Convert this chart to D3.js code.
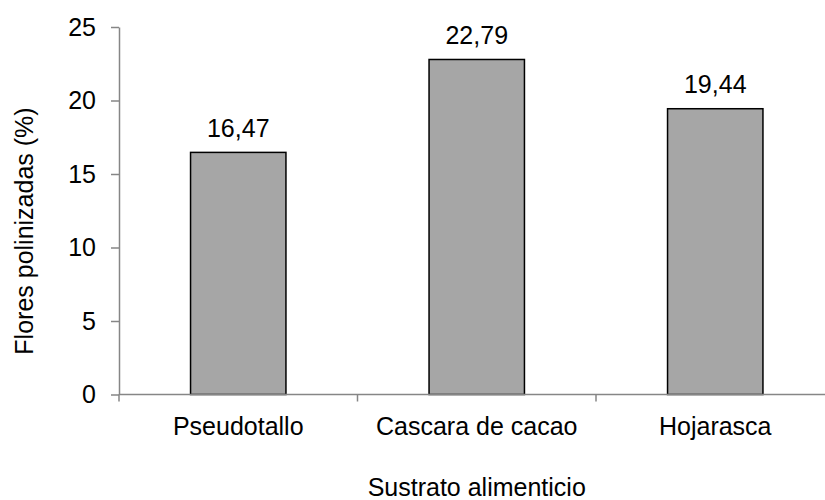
<!DOCTYPE html>
<html>
<head>
<meta charset="utf-8">
<script src="https://cdn.jsdelivr.net/npm/d3@7"></script>
<style>
  html, body { margin: 0; padding: 0; background: #fff; }
  svg { display: block; font-family: "Liberation Sans", Arial, sans-serif; }
</style>
</head>
<body>
<svg id="chart" width="825" height="500"></svg>
<script>
// Pollinated flowers (%) by feeding substrate
const categories = ["Pseudotallo", "Cascara de cacao", "Hojarasca"];
const values = [16.47, 22.79, 19.44];
const valueLabels = ["16,47", "22,79", "19,44"];
const yTicks = [0, 5, 10, 15, 20, 25];
const xTitle = "Sustrato alimenticio";
const yTitle = "Flores polinizadas (%)";

const svg = d3.select("#chart");
const fontSize = 25;
const axisColor = "#868686";

const plot = { left: 119, right: 834.5, top: 27, bottom: 394.5 };

const x = d3.scaleBand()
  .domain(categories)
  .range([plot.left, plot.right])
  .paddingInner(0.6)
  .paddingOuter(0.3);

const y = d3.scaleLinear()
  .domain([0, 25])
  .range([plot.bottom, plot.top]);

// Bars
svg.append("g").selectAll("rect")
  .data(categories)
  .join("rect")
  .attr("x", (d) => x(d))
  .attr("y", (d, i) => y(values[i]))
  .attr("width", x.bandwidth())
  .attr("height", (d, i) => y(0) - y(values[i]))
  .attr("fill", "#a6a6a6")
  .attr("stroke", "#000")
  .attr("stroke-width", 1.5);

// Value labels above the bars
svg.append("g").selectAll("text")
  .data(categories)
  .join("text")
  .attr("x", (d) => x(d) + x.bandwidth() / 2)
  .attr("y", (d, i) => y(values[i]) - 15.5)
  .attr("text-anchor", "middle")
  .attr("font-size", fontSize)
  .attr("fill", "#000")
  .text((d, i) => valueLabels[i]);

// Y axis
const yAxis = svg.append("g")
  .attr("transform", `translate(${plot.left},0)`)
  .call(d3.axisLeft(y).tickValues(yTicks).tickSize(8).tickPadding(15).tickSizeOuter(0));
yAxis.select(".domain").attr("stroke", axisColor).attr("stroke-width", 1.5);
yAxis.selectAll(".tick line").attr("stroke", axisColor).attr("stroke-width", 1.5);
yAxis.selectAll(".tick text")
  .attr("font-size", fontSize)
  .attr("font-family", "Liberation Sans, Arial, sans-serif")
  .attr("fill", "#000");

// X axis: baseline with tick marks at category boundaries
const xAxisG = svg.append("g");
xAxisG.append("line")
  .attr("x1", plot.left)
  .attr("x2", plot.right)
  .attr("y1", y(0))
  .attr("y2", y(0))
  .attr("stroke", axisColor)
  .attr("stroke-width", 1.5);
const boundaries = categories.map((d) => x(d) - x.step() * 0.3).concat([plot.right]);
xAxisG.selectAll("line.bound")
  .data(boundaries)
  .join("line")
  .attr("class", "bound")
  .attr("x1", (d) => d)
  .attr("x2", (d) => d)
  .attr("y1", y(0))
  .attr("y2", y(0) + 7)
  .attr("stroke", axisColor)
  .attr("stroke-width", 1.5);
xAxisG.selectAll("text")
  .data(categories)
  .join("text")
  .attr("x", (d) => x(d) + x.bandwidth() / 2)
  .attr("y", 435)
  .attr("text-anchor", "middle")
  .attr("font-size", fontSize)
  .attr("fill", "#000")
  .text((d) => d);

// Axis titles
svg.append("text")
  .attr("x", (plot.left + plot.right) / 2)
  .attr("y", 496)
  .attr("text-anchor", "middle")
  .attr("font-size", fontSize)
  .attr("fill", "#000")
  .text(xTitle);

svg.append("text")
  .attr("transform", "translate(33,231) rotate(-90)")
  .attr("text-anchor", "middle")
  .attr("font-size", fontSize)
  .attr("fill", "#000")
  .text(yTitle);
</script>
</body>
</html>
